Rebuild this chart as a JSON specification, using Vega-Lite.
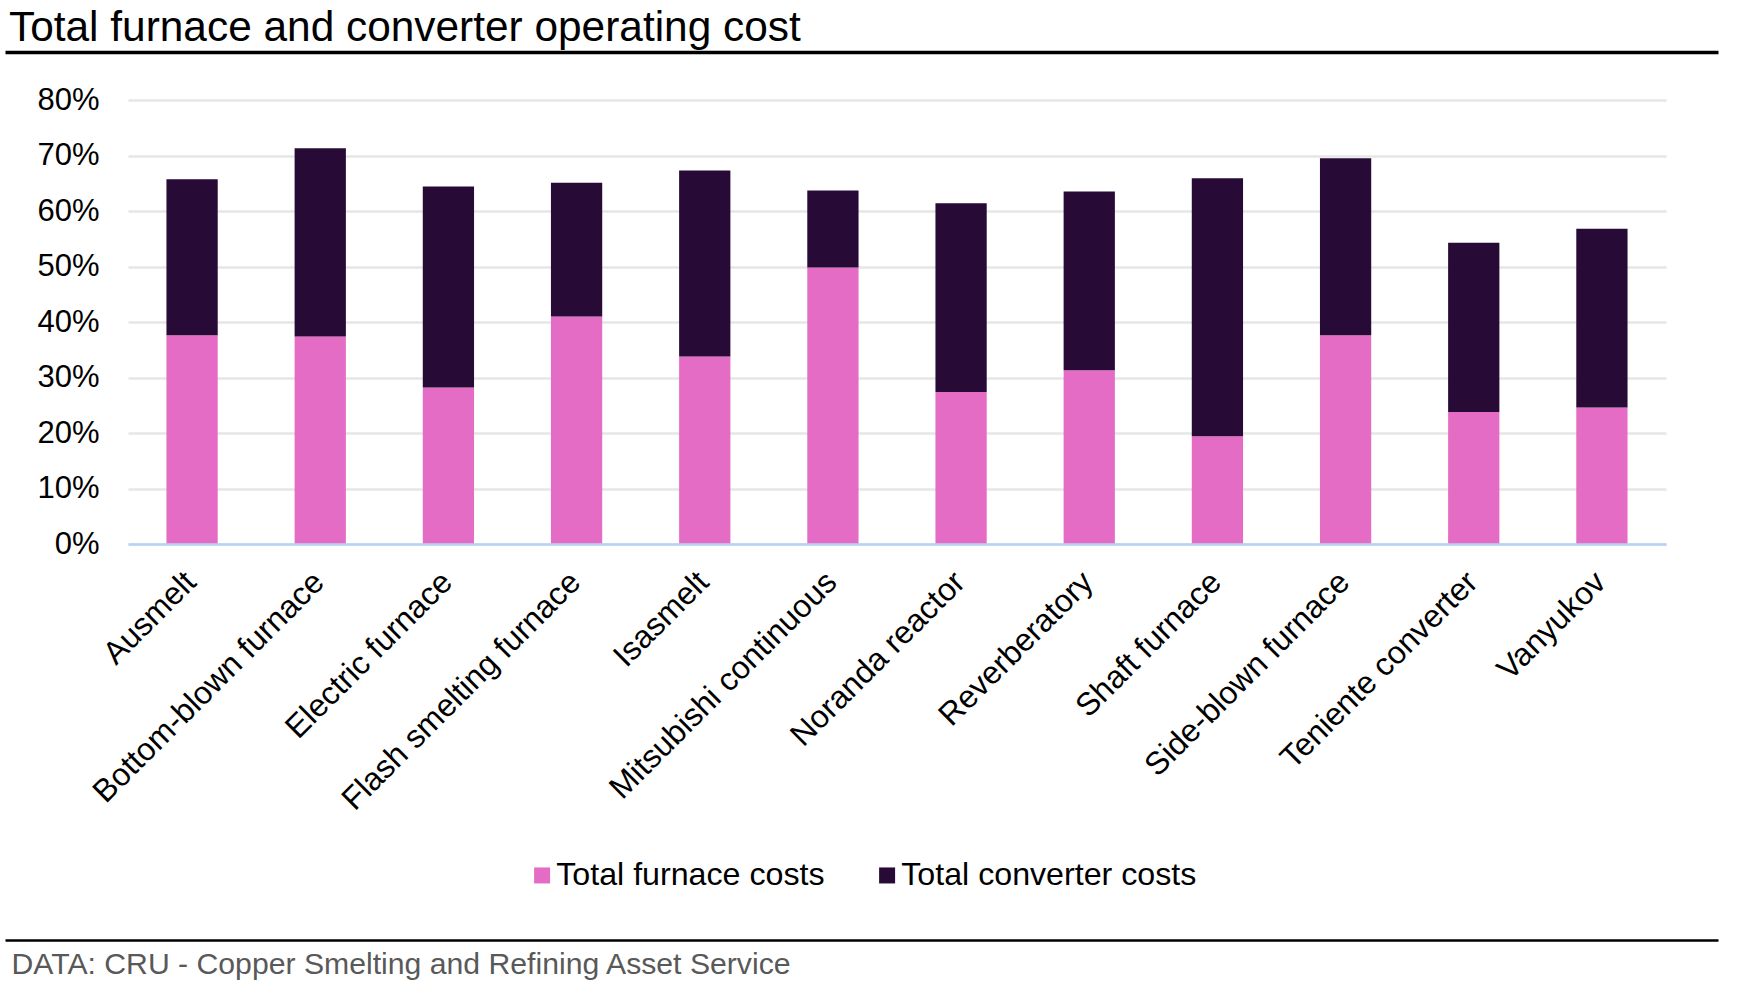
{
  "$schema": "https://vega.github.io/schema/vega-lite/v6.json",
  "background": "white",
  "autosize": {"type": "none"},
  "padding": {"left": 128, "top": 100, "right": 71, "bottom": 455},
  "width": 1538,
  "height": 444,
  "config": {
    "font": "Liberation Sans",
    "view": {"stroke": null}
  },
  "title": {
    "text": "Total furnace and converter operating cost",
    "anchor": "start",
    "frame": "group",
    "fontSize": 42.4,
    "fontWeight": "normal",
    "color": "#000000",
    "baseline": "alphabetic",
    "dx": -119,
    "dy": 43,
    "offset": 12
  },
  "data": {
    "values": [
      {"process": "Ausmelt", "series": "Total furnace costs", "share": 0.376},
      {"process": "Ausmelt", "series": "Total converter costs", "share": 0.281},
      {"process": "Bottom-blown furnace", "series": "Total furnace costs", "share": 0.374},
      {"process": "Bottom-blown furnace", "series": "Total converter costs", "share": 0.339},
      {"process": "Electric furnace", "series": "Total furnace costs", "share": 0.282},
      {"process": "Electric furnace", "series": "Total converter costs", "share": 0.362},
      {"process": "Flash smelting furnace", "series": "Total furnace costs", "share": 0.410},
      {"process": "Flash smelting furnace", "series": "Total converter costs", "share": 0.241},
      {"process": "Isasmelt", "series": "Total furnace costs", "share": 0.338},
      {"process": "Isasmelt", "series": "Total converter costs", "share": 0.335},
      {"process": "Mitsubishi continuous", "series": "Total furnace costs", "share": 0.498},
      {"process": "Mitsubishi continuous", "series": "Total converter costs", "share": 0.139},
      {"process": "Noranda reactor", "series": "Total furnace costs", "share": 0.274},
      {"process": "Noranda reactor", "series": "Total converter costs", "share": 0.340},
      {"process": "Reverberatory", "series": "Total furnace costs", "share": 0.313},
      {"process": "Reverberatory", "series": "Total converter costs", "share": 0.322},
      {"process": "Shaft furnace", "series": "Total furnace costs", "share": 0.194},
      {"process": "Shaft furnace", "series": "Total converter costs", "share": 0.465},
      {"process": "Side-blown furnace", "series": "Total furnace costs", "share": 0.376},
      {"process": "Side-blown furnace", "series": "Total converter costs", "share": 0.319},
      {"process": "Teniente converter", "series": "Total furnace costs", "share": 0.238},
      {"process": "Teniente converter", "series": "Total converter costs", "share": 0.305},
      {"process": "Vanyukov", "series": "Total furnace costs", "share": 0.246},
      {"process": "Vanyukov", "series": "Total converter costs", "share": 0.322}
    ]
  },
  "resolve": {"scale": {"x": "independent"}, "axis": {"x": "independent"}},
  "layer": [
    {
      "mark": {"type": "bar"},
      "encoding": {
        "x": {
          "field": "process",
          "type": "nominal",
          "sort": null,
          "scale": {"paddingInner": 0.6, "paddingOuter": 0.3},
          "axis": {
            "title": null,
            "labelAngle": -45,
            "labelFontSize": 32,
            "labelColor": "#000000",
            "labelLimit": 0,
            "labelOffset": -12,
            "labelPadding": 22,
            "ticks": false,
            "domainColor": "#B7D2F7",
            "domainWidth": 2.5,
            "zindex": 1
          }
        },
        "y": {
          "field": "share",
          "type": "quantitative",
          "stack": "zero",
          "scale": {"domain": [0, 0.8]},
          "axis": {
            "title": null,
            "format": ".0%",
            "values": [0, 0.1, 0.2, 0.3, 0.4, 0.5, 0.6, 0.7, 0.8],
            "labelFontSize": 31,
            "labelColor": "#000000",
            "labelPadding": 29,
            "ticks": false,
            "domain": false,
            "gridColor": "#E6E6E6",
            "gridWidth": 2.5
          }
        },
        "color": {
          "field": "series",
          "type": "nominal",
          "scale": {
            "domain": ["Total furnace costs", "Total converter costs"],
            "range": ["#E46CC4", "#270B36"]
          },
          "legend": {
            "title": null,
            "orient": "none",
            "direction": "horizontal",
            "legendX": 398,
            "legendY": 759,
            "padding": 0,
            "symbolType": "square",
            "symbolSize": 256,
            "symbolStrokeWidth": 0,
            "labelFontSize": 32.2,
            "labelColor": "#000000",
            "labelLimit": 0,
            "labelOffset": -2,
            "columnPadding": 46
          }
        },
        "order": {"field": "series", "sort": "descending"}
      }
    },
    {
      "mark": {"type": "point", "opacity": 0},
      "encoding": {
        "x": {
          "field": "share",
          "type": "quantitative",
          "scale": {"domain": [0, 1], "range": [-123, 1590]},
          "axis": {
            "orient": "top",
            "offset": 48,
            "title": null,
            "labels": false,
            "ticks": false,
            "grid": false,
            "domainColor": "#000000",
            "domainWidth": 3.3
          }
        }
      }
    },
    {
      "mark": {"type": "point", "opacity": 0},
      "encoding": {
        "x": {
          "field": "share",
          "type": "quantitative",
          "scale": {"domain": [0, 1], "range": [-123, 1590]},
          "axis": {
            "orient": "bottom",
            "offset": 396,
            "title": "DATA: CRU - Copper Smelting and Refining Asset Service",
            "titleFontSize": 30.2,
            "titleFontWeight": "normal",
            "titleColor": "#595959",
            "titleAnchor": "start",
            "titleAlign": "left",
            "titleBaseline": "alphabetic",
            "titleX": -117,
            "titleY": 33,
            "labels": false,
            "ticks": false,
            "grid": false,
            "domainColor": "#000000",
            "domainWidth": 2.5
          }
        }
      }
    }
  ]
}
